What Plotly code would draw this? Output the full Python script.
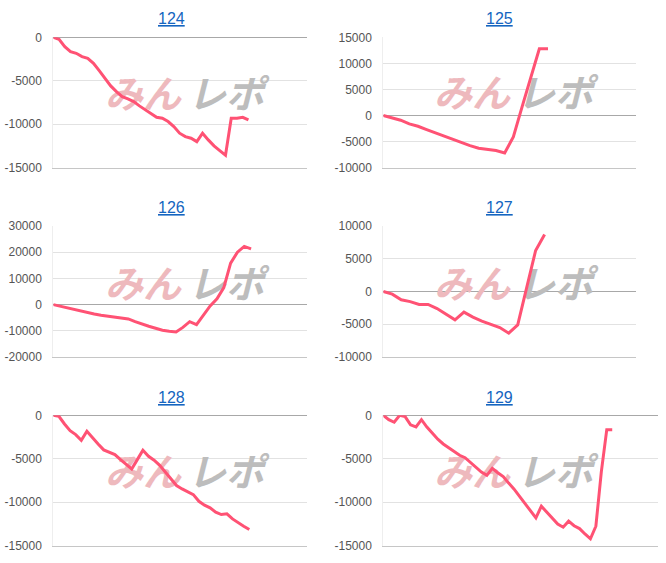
import plotly.graph_objects as go

W, H = 666, 563

titles = ["124", "125", "126", "127", "128", "129"]

diff_124 = [0, -230, -1070, -1650, -1840, -2220, -2410, -2990, -3830, -4710,
            -5590, -6250, -6820, -7090, -7400, -7890, -8350, -8740, -9200, -9310,
            -9690, -10270, -11030, -11420, -11610, -12000, -11030, -11800, -12490, -13030,
            -13560, -9310, -9310, -9200, -9500]
diff_125 = [0, -450, -900, -1600, -2050, -2690, -3330, -3900, -4480, -5120,
            -5760, -6270, -6520, -6710, -7160, -4090, 1600, 7290, 12800, 12800]
diff_126 = [0, -640, -1150, -1650, -2420, -3050, -3560, -4070, -4450, -4830,
            -5340, -5470, -6490, -7500, -8270, -9030, -9800, -10180, -10430, -8700,
            -6500, -7630, -3820, -500, 2200, 6500, 15800, 20000, 22200, 21250]
diff_127 = [0, -400, -1270, -1550, -1980, -1980, -2600, -3460, -4330, -3150,
            -3920, -4530, -5000, -5500, -6360, -5090, 600, 6260, 8700]
diff_128 = [0, -110, -1000, -1760, -2220, -2870, -1840, -2600, -3300, -3980,
            -4250, -4520, -5100, -5670, -6170, -5100, -4020, -4710, -5170, -5750,
            -6550, -7280, -8080, -8470, -8810, -9120, -9890, -10340, -10650, -11150,
            -11420, -11340, -11920, -12380, -12760, -13140]
diff_129 = [0, -500, -800, 0, -150, -1100, -1340, -500, -1350, -2050,
            -2750, -3300, -3700, -4130, -4600, -4880, -5450, -6050, -6530, -6910,
            -6100, -6600, -7050, -7800, -8500, -9330, -10150, -10880, -11800, -10460,
            -11100, -11800, -12500, -12870, -12180, -12700, -13030, -13650, -14210, -12760,
            -6500, -1650, -1650]

series = [diff_124, diff_125, diff_126, diff_127, diff_128, diff_129]

ticks_124 = [0, -5000, -10000, -15000]
ticks_125 = [15000, 10000, 5000, 0, -5000, -10000]
ticks_126 = [30000, 20000, 10000, 0, -10000, -20000]
ticks_127 = [10000, 5000, 0, -5000, -10000]
ticks_128 = [0, -5000, -10000, -15000]
ticks_129 = [0, -5000, -10000, -15000]
tick_sets = [ticks_124, ticks_125, ticks_126, ticks_127, ticks_128, ticks_129]

x_max = [44.2, 29.15, 37.2, 28.2, 45.3, 50.4]

# layout boxes in window pixels: left, right, top, bottom
boxes = [(53.3, 307, 37.3, 167.7), (383.3, 636, 37.3, 167.7),
         (53.3, 307, 226, 357), (383.3, 636, 226, 357),
         (53.3, 307, 415.3, 545.7), (383.3, 658, 415.3, 545.7)]
title_pos = [(171, 19), (500, 19), (171, 208), (500, 208), (171, 397), (500, 397)]
logo_pos = [(184, 99), (513, 98), (184, 288), (513, 288), (184, 477), (513, 477)]

LINE = "#ff5274"
FONT = "Arial, Liberation Sans, sans-serif"

fig = go.Figure()
layout = dict(width=W, height=H, margin=dict(l=0, r=0, t=0, b=0, autoexpand=False),
              paper_bgcolor="white", plot_bgcolor="white", showlegend=False,
              annotations=[])

for i, vals in enumerate(series):
    n = i + 1
    xa = "x" if n == 1 else f"x{n}"
    ya = "y" if n == 1 else f"y{n}"
    L, R, T, B = boxes[i]
    tv = tick_sets[i]
    y0, y1 = min(tv), max(tv)
    xm = x_max[i]

    def to_data(px, py):
        return (xm * (px - L) / (R - L), y0 + (B - py) / (B - T) * (y1 - y0))

    cx, cy = logo_pos[i]
    p1 = to_data(cx - 41, cy)
    p2 = to_data(cx + 42, cy)
    fig.add_trace(go.Scatter(
        x=[p1[0], p2[0]], y=[p1[1], p2[1]], mode="text", text=["みん", "レポ"],
        textposition="middle center",
        textfont=dict(family="Noto Sans CJK JP", size=38, color=["#eeb9bd", "#bdbdbd"],
                      weight="bold", style="italic"),
        hoverinfo="skip", xaxis=xa, yaxis=ya, cliponaxis=False))
    fig.add_trace(go.Scatter(
        x=list(range(len(vals))), y=vals, mode="lines",
        line=dict(color=LINE, width=3), xaxis=xa, yaxis=ya))

    xkey = "xaxis" if n == 1 else f"xaxis{n}"
    ykey = "yaxis" if n == 1 else f"yaxis{n}"
    layout[xkey] = dict(domain=[L / W, R / W], range=[0, xm], anchor=ya,
                        automargin=False,
                        showticklabels=False, showgrid=False, zeroline=False,
                        showline=True, linecolor="#c6c6c6", linewidth=1, fixedrange=True)
    layout[ykey] = dict(domain=[1 - B / H, 1 - T / H], range=[y0, y1], anchor=xa,
                        automargin=False,
                        tickmode="array", tickvals=tv, ticktext=[str(v) for v in tv],
                        showgrid=True, gridcolor="#e2e2e2",
                        zeroline=True, zerolinecolor="#a8a8a8", zerolinewidth=1,
                        showline=True, linecolor="#eeeeee", linewidth=1,
                        tickfont=dict(family=FONT, size=12, color="#555555"),
                        ticklabelstandoff=8, fixedrange=True)
    tx, ty = title_pos[i]
    layout["annotations"].append(dict(
        text=f"<u>{titles[i]}</u>", x=tx / W, y=1 - ty / H, xref="paper", yref="paper",
        xanchor="center", yanchor="middle", showarrow=False,
        font=dict(family=FONT, size=16, color="#1565c0")))

fig.update_layout(**layout)
fig.write_html("out.html", config={"displayModeBar": False},
               post_script="document.body.style.margin='0';document.body.style.overflow='hidden';")
